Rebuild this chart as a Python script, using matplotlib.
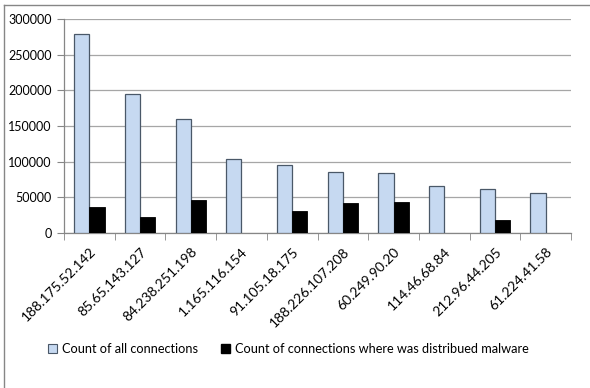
import matplotlib
matplotlib.use("Agg")
import matplotlib.pyplot as plt
import numpy as np
from matplotlib.patches import Rectangle
from matplotlib.lines import Line2D

ips = ["188.175.52.142", "85.65.143.127", "84.238.251.198", "1.165.116.154",
       "91.105.18.175", "188.226.107.208", "60.249.90.20", "114.46.68.84",
       "212.96.44.205", "61.224.41.58"]
all_conn = [278500, 194400, 159300, 103300, 95300, 85000, 84600, 65400, 61200, 55600]
malware_conn = [36900, 22000, 46300, 0, 31300, 41600, 43000, 0, 18200, 0]
yticks = [0, 50000, 100000, 150000, 200000, 250000, 300000]

plt.rcParams['font.family'] = ['Lato', 'DejaVu Sans']

W, H = 590, 388
fig = plt.figure(figsize=(W/100, H/100), dpi=100)
ax = fig.add_axes([64/W, 1-233/H, (571-64)/W, (233-19)/H])

x = np.arange(len(ips))
w = 0.3
ax.bar(x - w/2, all_conn, w, color='#c6d9f1', edgecolor='#4a5868', linewidth=0.9,
       label='Count of all connections', zorder=3)
ax.bar(x + w/2, malware_conn, w, color='#000000', edgecolor='#000000', linewidth=0.6,
       label='Count of connections where was distribued malware', zorder=3)

ax.set_xlim(-0.5, len(ips) - 0.5)
ax.set_ylim(0, 300000)
ax.set_yticks(yticks)
ax.set_yticklabels([str(v) for v in yticks], fontsize=9)
ax.yaxis.grid(True, color='#a6a6a6', linewidth=0.9, zorder=0)
ax.set_axisbelow(True)

ax.set_xticks(x)
ax.set_xticklabels(ips, rotation=45, ha='right', va='top', rotation_mode='anchor', fontsize=10)
ax.tick_params(axis='x', length=0, pad=9)
ax.set_xticks(np.arange(len(ips) + 1) - 0.5, minor=True)
ax.tick_params(axis='x', which='minor', length=5, color='#868686', direction='out')
ax.tick_params(axis='y', length=5, color='#868686', direction='out', pad=4)

for s in ['top', 'right']:
    ax.spines[s].set_visible(False)
for s in ['left', 'bottom']:
    ax.spines[s].set_color('#868686')
    ax.spines[s].set_linewidth(0.9)

h1 = Rectangle((0, 0), 1, 1, facecolor='#c6d9f1', edgecolor='#4a5868', linewidth=0.8)
h2 = Rectangle((0, 0), 1, 1, facecolor='#000000', edgecolor='#000000')
fig.legend([h1, h2], ['Count of all connections', 'Count of connections where was distribued malware'],
           loc='center', bbox_to_anchor=(288/W, 1-349/H), ncol=2, frameon=False, fontsize=9.2,
           handlelength=0.7, handleheight=0.7, handletextpad=0.4, columnspacing=1.8)

# outer chart border (left and top visible)
fig.add_artist(Line2D([4/W, 4/W], [0, 1-5/H], color='#868686', linewidth=1.0, transform=fig.transFigure))
fig.add_artist(Line2D([4/W, 1], [1-5/H, 1-5/H], color='#868686', linewidth=1.0, transform=fig.transFigure))

fig.savefig('out.png', dpi=100)
